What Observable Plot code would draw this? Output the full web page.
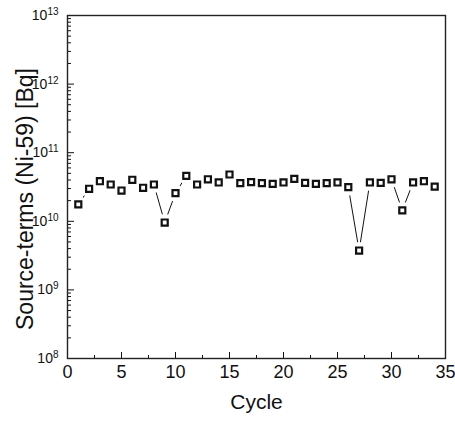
<!DOCTYPE html>
<html>
<head>
<meta charset="utf-8">
<script src="https://cdn.jsdelivr.net/npm/d3@7"></script>
<script src="https://cdn.jsdelivr.net/npm/@observablehq/plot@0.6"></script>
<style>
  html, body { margin: 0; padding: 0; background: #fff; }
  svg { display: block; }
</style>
</head>
<body>
<div id="chart"></div>
<script>
// ---- data ----
const cycles = [1,2,3,4,5,6,7,8,9,10,11,12,13,14,15,16,17,18,19,20,21,22,23,24,25,26,27,28,29,30,31,32,33,34];
const sourceTerms = [
  1.76e10, 2.98e10, 3.84e10, 3.44e10, 2.81e10, 4.03e10, 3.08e10, 3.44e10, 9.6e9, 2.57e10,
  4.6e10, 3.44e10, 4.1e10, 3.68e10, 4.81e10, 3.6e10, 3.72e10, 3.6e10, 3.52e10, 3.68e10,
  4.16e10, 3.64e10, 3.52e10, 3.6e10, 3.68e10, 3.14e10, 3.75e9, 3.68e10, 3.64e10, 4.1e10,
  1.44e10, 3.68e10, 3.84e10, 3.21e10
];
const xTicks = [0, 5, 10, 15, 20, 25, 30, 35];
const xMinorTicks = [2.5, 7.5, 12.5, 17.5, 22.5, 27.5, 32.5];
const yTicks = [1e8, 1e9, 1e10, 1e11, 1e12, 1e13];
const yMinorMultipliers = [2, 3, 4, 5, 6, 7, 8, 9];
const yMinorTicks = yTicks.slice(0, -1).flatMap(d => yMinorMultipliers.map(k => k * d));
const xLabel = "Cycle";
const yLabel = "Source-terms (Ni-59) [Bq]";

const data = cycles.map((c, i) => ({cycle: c, value: sourceTerms[i]}));

// ---- layout ----
const W = 455, H = 421;
const mL = 67, mR = 10, mT = 15, mB = 63;
const fw = W - mL - mR, fh = H - mT - mB;
const ink = "#111";

const svg = Plot.plot({
  width: W,
  height: H,
  marginLeft: mL,
  marginRight: mR,
  marginTop: mT,
  marginBottom: mB,
  style: {fontFamily: "'Liberation Sans', Arial, sans-serif", color: ink, background: "#fff"},
  x: {domain: [0, 35]},
  y: {type: "log", domain: [1e8, 1e13]},
  marks: [
    Plot.line(data, {x: "cycle", y: "value", stroke: ink, strokeWidth: 1}),
    Plot.dot(data, {x: "cycle", y: "value", r: 8.5, fill: "white", stroke: null, symbol: "circle"}),
    Plot.ruleY(yMinorTicks, {y: d => d, insetRight: fw - 4, stroke: ink, strokeWidth: 1}),
    Plot.ruleY(yTicks, {y: d => d, insetRight: fw - 7, stroke: ink, strokeWidth: 1}),
    Plot.ruleX(xMinorTicks, {x: d => d, insetTop: fh - 3, stroke: ink, strokeWidth: 1}),
    Plot.ruleX(xTicks, {x: d => d, insetTop: fh - 6, stroke: ink, strokeWidth: 1}),
    Plot.frame({stroke: "#222", strokeWidth: 1.4}),
    Plot.dot(data, {x: "cycle", y: "value", r: 3.4, symbol: "square", fill: "white", stroke: ink, strokeWidth: 2.2}),
    Plot.axisY({ticks: yTicks, tickSize: 0, tickPadding: 9, fontSize: 14, label: null,
      tickFormat: d => String(Math.round(Math.log10(d)))}),
    Plot.axisX({ticks: xTicks, tickSize: 0, tickPadding: 7, fontSize: 18, label: null}),
    Plot.text([xLabel], {frameAnchor: "bottom", dy: 50, fontSize: 21, fill: ink}),
    Plot.text([yLabel], {frameAnchor: "left", textAnchor: "middle", rotate: -90, dx: -42, dy: 12, fontSize: 23, fill: ink})
  ]
});

// power-of-ten labels: "10" with a raised exponent
d3.select(svg).selectAll('g[aria-label="y-axis tick label"] text').each(function() {
  const e = this.textContent;
  const t = d3.select(this);
  t.text("10");
  t.append("tspan").attr("dy", "-0.5em").attr("font-size", "10px").text(e);
});

document.getElementById("chart").appendChild(svg);
</script>
</body>
</html>
